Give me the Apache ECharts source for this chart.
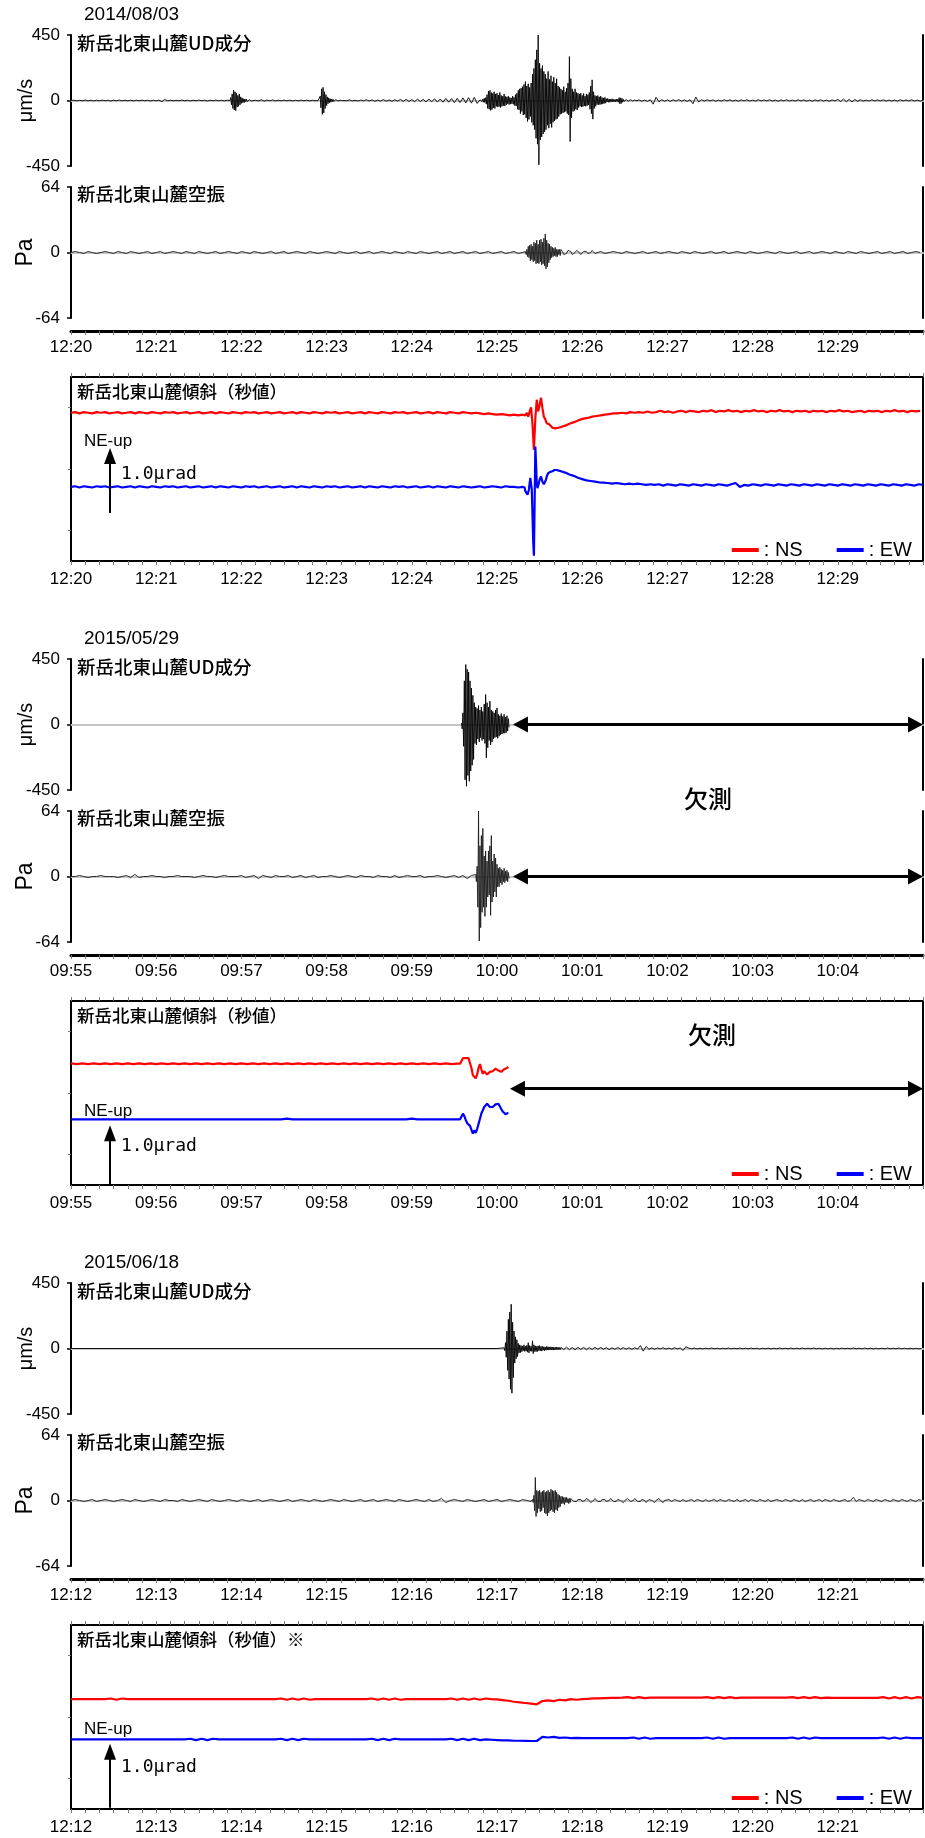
<!DOCTYPE html>
<html><head><meta charset="utf-8">
<script src="https://cdn.jsdelivr.net/npm/echarts@6/dist/echarts.min.js"></script>
<style>html,body{margin:0;padding:0;background:#fff}#c{width:925px;height:1838px}</style>
</head><body><div id="c"></div>
<script>
// ---------- tick labels / texts ----------
const ticks1 = ['12:20','12:21','12:22','12:23','12:24','12:25','12:26','12:27','12:28','12:29'];
const ticks2 = ['09:55','09:56','09:57','09:58','09:59','10:00','10:01','10:02','10:03','10:04'];
const ticks3 = ['12:12','12:13','12:14','12:15','12:16','12:17','12:18','12:19','12:20','12:21'];
const dates = ['2014/08/03','2015/05/29','2015/06/18'];
const udTitle = '新岳北東山麓UD成分';
const paTitle = '新岳北東山麓空振';
const tiltTitles = ['新岳北東山麓傾斜（秒値）','新岳北東山麓傾斜（秒値）','新岳北東山麓傾斜（秒値）※'];

// ---------- panel 1 : UD (μm/s), seconds from 12:20:00 ----------
const ud1Quiet0 = [0,2,-2,1,-2,3,-2,2,-3,2,-2,3,-2,2,-3,2,-2,3,-2,2,-2,2,-3,2,-2,3,-2,2,-3,2,-2,3,-8,7,-2,2,-3,2,-2,3,-2,2,-3,2,-2,3,-2,2,-3,2,-2,3,-2,2,-3,2];
const ud1EvA = [0,20,-30,45,-55,70,-65,60,-70,50,-45,35,-40,45,-30,25,-20,18,-15,12,-14,10,-8,9,-7,6,-5,5,-4,3,-3,2,0];
const ud1Quiet1 = [2,-3,5,-4,3,-2,4,-3,2,-2,3,-2,2,-3,2,-2,3,-2,2,-3,2,-2,0];
const ud1EvB = [0,30,-50,80,-95,90,-85,60,-55,40,-35,25,-22,18,-15,12,-12,10,-8,8,-6,6,-5,5,-4,4,-3,3,-3,2,-2,2,0];
const ud1Noise = [3,-2,4,-3,2,-4,3,-2,5,-3,4,-5,3,-4,6,-5,4,-6,5,-4,7,-6,8,-7,6,-8,9,-7,8,-10,10,-9,12,-11,10,-12,14,-12,13,-15,15,-14,18,-16,20,-18,22,-20];
const ud1Main = [
 5,-6,8,-7,10,-12,15,-14,20,-25,
 40,-55,65,-60,70,-68,55,-62,48,-50,60,-55,45,-40,
 50,-45,38,-42,55,-48,35,-40,30,-35,45,-38,28,-30,25,-22,30,-28,
 20,-25,18,-22,30,-26,22,-35,40,-38,
 50,-60,70,-65,80,-90,85,-75,95,-100,110,-95,
 130,-120,100,-144,115,-130,90,-110,
 120,-150,180,-170,220,-200,280,-260,
 348,-300,450,-442,
 256,-270,220,-250,240,-230,200,-215,
 180,-200,150,-170,200,-190,145,-160,170,-185,130,-150,
 160,-140,120,-130,150,-125,100,-110,90,-95,
 80,-90,70,-85,95,-80,60,-75,85,-90,120,-100,
 302,-282,
 150,-120,80,-75,60,-70,80,-60,55,-65,50,-48,
 45,-40,50,-45,35,-42,48,-38,30,-40,45,-35,40,-30,55,-60,
 100,-90,142,-128,
 60,-55,35,-40,30,-28,34,-30,25,-28,30,-26,20,-24,18,-20,22,-18,
 12,-10,14,-12,10,-12,9,-8,12,-10,8,-9,7,-8,10,-8,9,-12,
 20,-23,18,-20,15,-12,
 8,-6,5,-7,6,-5,4,-5,3,-4,5,-3,4,-3,2,-3,3,-2,2,-2,1,0];
const ud1Tail = [4,-5,3,-6,5,-25,22,-8,6,-5,4,-6,5,-4,6,-5,4,-6,5,-22,24,-10,6,-4,5,-3,4,-5,3,-4,5,-3,4,-4,3,-5,4,-3,5,-4,3,-4,5,-3,4,-3,5,-4,3,-5,4,-3,5,-4,3,-4,5,-3,4,-4,3,-5,4,-3,5,-4,3,-5,4,-3,8,-7,10,-9,8,-10,7,-6,5,-4,3,-4,5,-3,4,-3,5,-4,3,-4,3,-4,5,-3,4,-3,5,-4,3,-4,0];

// ---------- panel 1 : infrasound (Pa) ----------
const pa1Pre = [0,1,0,-1,1,0,-1,0,1,0,-1,1,0,-1,1,0,-1,0,1,-1,0,1,-1,0,1,0,-1,1,0,-1,1,0,-1,0,1,-1,0,1,0,-1,1,0,-1,1,0,-1,0,1,-1,0,1,-1,0,1,0,-1,1,0,-1,0,1,0,-1,1,0,-1,0,1,-1,0,1,-1,0,1,0,-1,1,0,-1,1,0,-1,1,0,-1,0,1,-1,0,1,-1,0,1,-1,0,1,-1,0,1,-1,0,1,-1,0,1,-1,0];
const pa1Ev = [1,-2,3,-4,6,-5,7,-8,8,-7,6,-9,10,-8,9,-11,12,-10,8,-11,12,-9,13,-12,10,-11,14,-13,18,-16,12,-14,9,-10,8,-7,6,-5,5,-4,4,-3,5,-4,3,-4,3,-2,3,-3];
const pa1Ring = [3,1,-2,-3,-1,2,3,1,-2,-3,0,2,2,0,-2,-2,1,2,1,-1,-2,0,2,1,-1];
const pa1Post = [0,1,-1,0,1,0,-1,1,0,-1,0,1,-1,0,1,-1,0,1,0,-1,1,0,-1,1,0,-1,0,1,-1,0,1,-1,0,1,0,-1,1,0,-1,0,1,0,-1,1,0,-1,0,1,-1,0,1,-1,0,1,0,-1,1,0,-1,1,0,-1,1,0,-1,0,1,-1,0,1,-1,0,1,-1,0,1,0];

// ---------- panel 1 : tilt (μrad, arbitrary zero) ----------
const ns1Pre = [2.28,2.29,2.27,2.29,2.28,2.27,2.29,2.28,2.29,2.27,2.28,2.29,2.27,2.28,2.29,2.27,2.29,2.28,2.27,2.29,2.28,2.27,2.29,2.28,2.29,2.27,2.28,2.29,2.27,2.28,2.29,2.27,2.28,2.29,2.27,2.29,2.28,2.27,2.29,2.28,2.27,2.29,2.28,2.29,2.27,2.28,2.29,2.27,2.28,2.29,2.27,2.28,2.29,2.27,2.29,2.28,2.27,2.29,2.28,2.27,2.29,2.28,2.29,2.27,2.28,2.29,2.27,2.28,2.29,2.27,2.29,2.28,2.27,2.29,2.28,2.27,2.29,2.28,2.29,2.27,2.28,2.29,2.27,2.28,2.29,2.27,2.29,2.28,2.27,2.29,2.28,2.27,2.29,2.28,2.27,2.28,2.27,2.26,2.27,2.26,2.25,2.26,2.25,2.24,2.25,2.24,2.25];
const ns1Ev = [2.25,2.24,2.28,2.22,2.30,2.365,2.1,1.71,2.2,2.48,2.3,2.4,2.51,2.35,2.22,2.18,2.12,2.15,2.1,2.08,2.05,2.03,2.04,2.03,2.05,2.04,2.06];
const ns1Post = [2.07,2.09,2.12,2.14,2.17,2.19,2.20,2.22,2.23,2.24,2.25,2.26,2.27,2.27,2.28,2.27,2.29,2.28,2.29,2.28,2.30,2.28,2.29,2.31,2.29,2.30,2.28,2.30,2.31,2.29,2.31,2.30,2.29,2.31,2.30,2.32,2.29,2.31,2.30,2.32,2.30,2.31,2.29,2.31,2.30,2.32,2.30,2.31,2.29,2.31,2.30,2.32,2.30,2.31,2.29,2.31,2.30,2.31,2.29,2.31,2.30,2.31,2.29,2.31,2.30,2.32,2.30,2.31,2.29,2.30,2.31,2.29,2.31,2.30,2.31,2.29,2.31,2.30,2.32,2.30,2.31,2.29,2.31,2.30,2.31];
const ew1Pre = [1.14,1.15,1.13,1.15,1.14,1.13,1.15,1.14,1.15,1.13,1.14,1.15,1.13,1.14,1.15,1.13,1.15,1.14,1.13,1.15,1.14,1.13,1.15,1.14,1.15,1.13,1.14,1.15,1.13,1.14,1.15,1.13,1.14,1.15,1.13,1.15,1.14,1.13,1.15,1.14,1.13,1.15,1.14,1.15,1.13,1.14,1.15,1.13,1.14,1.15,1.13,1.14,1.15,1.13,1.15,1.14,1.13,1.15,1.14,1.13,1.15,1.14,1.15,1.13,1.14,1.15,1.13,1.14,1.15,1.13,1.15,1.14,1.13,1.15,1.14,1.13,1.15,1.14,1.15,1.13,1.14,1.15,1.13,1.14,1.15,1.13,1.15,1.14,1.13,1.15,1.14,1.13,1.15,1.14,1.13,1.14,1.15,1.13,1.14,1.15,1.14,1.13,1.15,1.14,1.14,1.13,1.14];
const ew1Ev = [1.14,1.13,1.07,1.05,1.04,1.02,1.015,1.1,1.2,1.28,1.31,1.1,0.7,0.3,0.08,0.9,1.76,1.5,1.2,1.12,1.14,1.2,1.25,1.28,1.30,1.27,1.22,1.2,1.18,1.17,1.2,1.25,1.3,1.33,1.35,1.34,1.35,1.37,1.38,1.39,1.38,1.40,1.39,1.40,1.41,1.40,1.40,1.39,1.40,1.39,1.38,1.39,1.38];
const ew1Post = [1.36,1.33,1.31,1.28,1.26,1.24,1.23,1.22,1.21,1.205,1.2,1.19,1.2,1.19,1.18,1.19,1.18,1.19,1.18,1.17,1.18,1.17,1.18,1.16,1.18,1.17,1.16,1.18,1.17,1.16,1.18,1.17,1.16,1.18,1.17,1.16,1.18,1.17,1.16,1.18,1.2,1.14,1.17,1.16,1.18,1.17,1.16,1.18,1.17,1.16,1.18,1.17,1.16,1.18,1.17,1.16,1.18,1.17,1.16,1.18,1.17,1.16,1.18,1.17,1.16,1.18,1.17,1.16,1.18,1.17,1.16,1.18,1.17,1.16,1.18,1.17,1.16,1.18,1.17,1.16,1.18,1.17,1.16,1.18,1.17];

// ---------- panel 2 (09:55:00) ----------
const ud2Ev = [10,-30,80,-150,300,-380,412,-424,380,-350,360,-390,300,-320,250,-280,200,-240,150,-130,120,-140,110,-100,130,-120,100,-90,120,-110,90,-100,140,-130,206,-229,150,-160,120,-110,160,-140,100,-120,90,-100,80,-90,100,-85,114,-95,70,-80,60,-70,75,-65,55,-60,70,-60,50,-55,60,-45,40,-20];
const pa2Pre = [0,0,1,0,-1,0,0,1,0,0,0,-1,0,1,-1,2,-1,0,0,1,0,0,-1,0,0,1,0,0,0,-1,0,1,0,0,-1,0,1,0,0,0,1,-1,0,1,-2,1,0,-1,1,0,0,1,-1,0,1,-1,0,1,-1,0,0,1,0,-1,0,1,0,-1,1,0,0,-1,1,0,0,-1,1,-1,0,1,0,0,1,-1,0,0,1,0,-1,0,1,-1,1,-2,1];
const pa2Ev = [2,-5,10,-30,64,-63,30,-50,40,-35,47,-30,20,-39,25,-30,15,-20,25,-18,30,-38,40,-25,15,-20,22,-15,18,-20,12,-10,8,-10,9,-6,7,-8,6,-5,8,-6,5,-4,6,-5,4,-2];
const ns2Pre = [1.87,1.86,1.87,1.86,1.87,1.86,1.87,1.86,1.87,1.86,1.87,1.86,1.87,1.86,1.87,1.86,1.87,1.86,1.87,1.86,1.87,1.86,1.87,1.86,1.87,1.86,1.87,1.86,1.87,1.86,1.87,1.86,1.87,1.86,1.87,1.86,1.87,1.86,1.87,1.86,1.87,1.86,1.87,1.86,1.87,1.86,1.87,1.86,1.87,1.86,1.87,1.86,1.87,1.86,1.87,1.86,1.87,1.86,1.87,1.86,1.87,1.86,1.87,1.86,1.87,1.86,1.87,1.86,1.866];
const ns2Ev = [1.866,1.86,1.95,1.93,1.95,1.94,1.95,1.93,1.8,1.69,1.72,1.64,1.7,1.8,1.86,1.78,1.71,1.75,1.74,1.70,1.72,1.74,1.73,1.75,1.77,1.79,1.78,1.76,1.75,1.74,1.75,1.78,1.79,1.8,1.815];
const ew2Pre = [1.01,1.01,1.01,1.01,1.01,1.01,1.01,1.01,1.01,1.01,1.01,1.01,1.01,1.01,1.01,1.01,1.01,1.01,1.01,1.01,1.01,1.01,1.01,1.01,1.01,1.01,1.01,1.01,1.01,1.01,1.01,1.01,1.01,1.01,1.01,1.01,1.01,1.01,1.02,1.01,1.01,1.01,1.01,1.01,1.01,1.01,1.01,1.01,1.01,1.01,1.01,1.01,1.01,1.01,1.01,1.01,1.01,1.01,1.01,1.01,1.02,1.01,1.01,1.01,1.01,1.01,1.01,1.01,1.01];
const ew2Ev = [1.01,1.01,1.097,1.06,1.0,0.95,0.94,0.91,0.89,0.79,0.84,0.80,0.86,0.94,1.02,1.1,1.15,1.2,1.22,1.25,1.24,1.2,1.17,1.2,1.225,1.24,1.25,1.25,1.22,1.17,1.13,1.1,1.09,1.1,1.11];

// ---------- panel 3 (12:12:00) ----------
const ud3Pre = [0,0,0,0,0,0,0];
const ud3Ev = [5,-15,40,-60,120,-150,200,-210,250,-280,304,-307,180,-200,120,-100,80,-70,60,-55,35,-30,25,-28,20,-22,18,-15,25,-20,15,-18,22,-25,40,-30,20,-18,15,-20,53,-35,25,-20,18,-22,15,-20,18,-15,20,-16,14,-18,15,-12,12,-15,10,-12,14,-10,12,-11,10,-8,12,-10,9,-11,10,-8,8,-9,10,-7,9,-8,7,-8];
const ud3Tail = [8,-7,9,-8,7,-9,8,-6,7,-8,6,-7,8,-6,7,-5,6,-7,5,-6,7,-5,6,-5,5,-6,5,-4,20,-18,14,-5,4,-5,4,-3,5,-4,3,-4,5,-3,4,-14,12,3,-2,3,-3,2,-3,2,-2,3,-2,2,-3,2,-2,3,-2,2,-2,3,-2,2,-2,3,-2,2,-3,2,-2,2,-3,2,-2,3,-2,2,-2,3,-2,2,-2,3,-2,2,-2,3,-2,2,-3,2,-2,2,-3,2,-2,3,-2,2,-2,3,-2,2,-2,3,-2,2,-3,2,-2,2,-2,3,-2,2,-2,3,-2,2,-2,2,-3,2,-2,0];
const pa3Pre = [0,1,0,-1,0,1,-1,0,1,0,-1,0,1,0,-1,1,0,-1,0,1,0,-1,1,0,0,-1,1,0,-1,0,1,0,-1,1,0,-1,0,1,0,-1,1,0,-1,0,1,-1,0,1,0,-1,0,1,-1,0,1,0,-1,1,0,-1,0,1,0,-1,1,0,-1,0,1,-1,0,1,-1,0,1,0,-1,1,0,-1,0,1,0,-1,1,-1,0,2,-2,0,1,0,-1,1,0,-1,0,1,-1,0,1,-1,0,1,0,-1,1,0,-1];
const pa3Ev = [1,-2,5,-10,22.5,-15.6,10,-12,9,-8,10,-11,8,-10,9,-7,10,-12,8,-13,9,-15,10,-12,8,-10,11,-9,10,-11,9,-12,10,-9,8,-10,6,-7,5,-6,4,-3,4,-3,3,-4,3,-2,3,-2,2,-3,2,-2];
const pa3Ring = [2,1,-1,-2,-1,1,2,1,-1,-2,0,2,2,0,-2,-2,0,2,1,-1,-2,-1,1,2,1,-1,-2,0,2,1,-1,-2,-1,1,2,0,-1,-2,0,1,2,1,-1,-2,0,2,1,-1,-2,-1,1,2,0,-2,-1,1,2,0,-1,-2,0,1,2,0,-1,-2,0,1];
const pa3Post = [1,-1,1,0,-1,1,-1,0,1,-1,1,0,-1,1,-1,0,1,-1,1,0,-1,1,0,-1,1,-1,0,1,-1,1,0,-1,1,0,-1,1,-1,0,1,0,-1,1,0,-1,1,0,-1,1,-1,0,1,-1,0,1,-1,1,0,-1,1,0,-1,0,1,-1,0,3,-1,1,0,-1,1,0,-1,1,0,-1,1,0,-1,1,0,-1,1,0,-1,1,0,-1,1,0];
const ns3All = [1.69,1.69,1.69,1.69,1.69,1.69,1.69,1.70,1.68,1.70,1.69,1.69,1.69,1.69,1.69,1.69,1.69,1.69,1.69,1.69,1.69,1.69,1.69,1.69,1.69,1.69,1.69,1.69,1.69,1.69,1.69,1.69,1.69,1.69,1.69,1.69,1.69,1.70,1.68,1.70,1.68,1.70,1.68,1.69,1.69,1.69,1.69,1.69,1.69,1.69,1.69,1.69,1.69,1.70,1.68,1.70,1.68,1.70,1.68,1.69,1.69,1.69,1.69,1.69,1.69,1.69,1.69,1.70,1.68,1.70,1.68,1.70,1.68,1.70,1.69,1.685,1.675,1.665,1.65,1.64,1.63,1.62,1.61,1.66,1.67,1.66,1.68,1.67,1.69,1.68,1.69,1.695,1.70,1.70,1.705,1.71,1.71,1.713,1.72,1.705,1.72,1.705,1.713,1.713,1.713,1.713,1.713,1.713,1.713,1.713,1.713,1.713,1.72,1.705,1.72,1.705,1.72,1.705,1.713,1.713,1.713,1.713,1.713,1.713,1.713,1.713,1.713,1.72,1.705,1.72,1.705,1.72,1.705,1.713,1.71,1.71,1.71,1.71,1.71,1.71,1.71,1.71,1.71,1.72,1.70,1.72,1.70,1.72,1.70,1.72,1.71];
const ew3All = [1.07,1.07,1.07,1.07,1.07,1.07,1.07,1.07,1.07,1.07,1.07,1.07,1.07,1.07,1.07,1.07,1.07,1.07,1.07,1.07,1.07,1.08,1.06,1.08,1.06,1.08,1.07,1.07,1.07,1.07,1.07,1.07,1.07,1.07,1.07,1.07,1.07,1.08,1.06,1.08,1.06,1.08,1.07,1.07,1.07,1.07,1.07,1.07,1.07,1.07,1.07,1.07,1.07,1.08,1.06,1.08,1.06,1.08,1.07,1.07,1.07,1.07,1.07,1.07,1.07,1.07,1.07,1.08,1.06,1.08,1.06,1.08,1.06,1.07,1.065,1.06,1.055,1.055,1.05,1.05,1.048,1.046,1.046,1.11,1.1,1.108,1.095,1.1,1.09,1.095,1.09,1.09,1.09,1.09,1.09,1.09,1.09,1.09,1.09,1.1,1.08,1.1,1.08,1.09,1.09,1.09,1.09,1.09,1.09,1.09,1.09,1.09,1.1,1.08,1.1,1.08,1.09,1.09,1.09,1.09,1.09,1.09,1.09,1.09,1.09,1.09,1.09,1.1,1.08,1.1,1.08,1.1,1.09,1.09,1.09,1.09,1.09,1.09,1.09,1.09,1.09,1.09,1.09,1.1,1.08,1.1,1.08,1.1,1.09,1.09,1.09];

// ---------- helpers ----------
function seg(t0, dt, vals){ return vals.map((v,i)=>[t0+i*dt, v]); }
function join(){ return [].concat.apply([], arguments); }

const udData = [
  join(seg(0,2,ud1Quiet0), seg(112,0.5,ud1EvA), seg(130,2,ud1Quiet1), seg(175,0.5,ud1EvB), seg(192,2,ud1Noise), seg(288,0.5,ud1Main), seg(400,2,ud1Tail)),
  seg(275,0.5,ud2Ev),
  join(seg(0,50,ud3Pre), seg(305,0.5,ud3Ev), seg(345,2,ud3Tail))
];
const paData = [
  join(seg(0,3,pa1Pre), seg(320,0.5,pa1Ev), seg(345,1,pa1Ring), seg(370,3,pa1Post)),
  join(seg(0,3,pa2Pre), seg(285,0.5,pa2Ev)),
  join(seg(0,3,pa3Pre), seg(325,0.5,pa3Ev), seg(352,1,pa3Ring), seg(421,2,pa3Post))
];
const nsData = [
  join(seg(0,3,ns1Pre), seg(319,1,ns1Ev), seg(346,3,ns1Post)),
  join(seg(0,4,ns2Pre), seg(274,1,ns2Ev)),
  seg(0,4,ns3All)
];
const ewData = [
  join(seg(0,3,ew1Pre), seg(319,0.5,ew1Ev), seg(348,3,ew1Post)),
  join(seg(0,4,ew2Pre), seg(274,1,ew2Ev)),
  seg(0,4,ew3All)
];
const tickSets = [ticks1, ticks2, ticks3];

// ---------- layout ----------
const FL = '"Liberation Sans", Arial, sans-serif';
const FJ = '"Noto Sans CJK JP", sans-serif';
const PANEL_DY = [0, 624, 1248];
const TILT_SPAN = 2.83;
const neUp = [[0.738,1.615],[0.0,0.795],[0.02,0.88]];
const neTextY = [441, 487, 481];
const radTextY = [474, 522.5, 519.5];

const grid=[], xAxis=[], yAxis=[], series=[], legend=[], graphic=[];
const fmt = (labels) => (v) => { const i = Math.round(v/60); return (i>=0 && i<labels.length) ? labels[i] : ''; };

function zeroX(g){ return {gridIndex:g, type:'value', position:'bottom', min:0, max:600,
  axisLine:{show:true, onZero:true, lineStyle:{color:'#c6c6c6', width:2}},
  axisTick:{show:false}, axisLabel:{show:false}, splitLine:{show:false}}; }
function leftY(g, lo, hi, name, nSize, nGap){ return {gridIndex:g, type:'value', position:'left', min:lo, max:hi, interval:hi,
  axisLine:{show:true, onZero:false, lineStyle:{color:'#000', width:2}},
  axisTick:{show:true, length:4, lineStyle:{color:'#000', width:1.5}},
  axisLabel:{show:true, fontSize:17, fontFamily:FL, color:'#000', margin:11},
  splitLine:{show:false}, name:name, nameLocation:'middle', nameRotate:90, nameGap:nGap, nameMoveOverlap:false,
  nameTextStyle:{fontSize:nSize, fontFamily:FL, color:'#000'}}; }
function rightY(g, lo, hi){ return {gridIndex:g, type:'value', position:'right', min:lo, max:hi,
  axisLine:{show:true, onZero:false, lineStyle:{color:'#000', width:2}},
  axisTick:{show:false}, axisLabel:{show:false}, splitLine:{show:false}}; }
function timeX(g, labels, pos, offset, showLine, showLabel, margin){ return {gridIndex:g, type:'value', position:pos, offset:offset, min:0, max:600, interval:60,
  axisLine:{show:showLine, onZero:false, lineStyle:{color:'#000', width:3}},
  axisTick:{show:true, length:4, lineStyle:{color:'#777', width:1}},
  minorTick:{show:true, splitNumber:6, length:4, lineStyle:{color:'#777', width:1}},
  axisLabel:{show:showLabel, formatter:fmt(labels), fontSize:17, fontFamily:FL, color:'#000', margin:margin},
  splitLine:{show:false}}; }
const traceBase = {type:'line', showSymbol:false, symbol:'none', silent:true, animation:false, z:3};
function arrowLine(a, b, size, width, startSym){ return {silent:true, animation:false,
  symbol:[startSym, 'triangle'], symbolSize:size, lineStyle:{color:'#000', width:width, type:'solid'},
  itemStyle:{color:'#000'}, label:{show:false}, emphasis:{disabled:true}, data:[[{coord:a},{coord:b}]]}; }

for (let p=0; p<3; p++){
  const oy = PANEL_DY[p];
  // --- UD grid
  let g = grid.length;
  grid.push({left:71, right:2, top:35+oy, height:131, containLabel:false, outerBoundsMode:'none'});
  let xi = xAxis.length; xAxis.push(zeroX(g));
  let yi = yAxis.length; yAxis.push(leftY(g, -450, 450, 'μm/s', 20, 35)); yAxis.push(rightY(g, -450, 450));
  const udS = Object.assign({}, traceBase, {xAxisIndex:xi, yAxisIndex:yi, data:udData[p], lineStyle:{color:'#000', width:0.9}});
  if (p===1){ udS.clip=false; udS.markLine = arrowLine([316.5,0],[594.7,0],[16,15],3,'triangle'); }
  series.push(udS);
  // --- Pa grid
  g = grid.length;
  grid.push({left:71, right:2, top:187+oy, height:131, containLabel:false, outerBoundsMode:'none'});
  xi = xAxis.length; xAxis.push(zeroX(g)); xAxis.push(timeX(g, tickSets[p], 'bottom', 13, true, true, 8));
  yi = yAxis.length; yAxis.push(leftY(g, -64, 64, 'Pa', 23, 34)); yAxis.push(rightY(g, -64, 64));
  const paS = Object.assign({}, traceBase, {xAxisIndex:xi, yAxisIndex:yi, data:paData[p], lineStyle:{color:'#1a1a1a', width:0.9}});
  if (p===1){ paS.clip=false; paS.markLine = arrowLine([316.5,0],[594.7,0],[16,15],3,'triangle'); }
  series.push(paS);
  // --- tilt grid
  g = grid.length;
  grid.push({left:71, right:2, top:377+oy, height:184, containLabel:false, outerBoundsMode:'none',
    show:true, borderColor:'#000', borderWidth:2, backgroundColor:'rgba(0,0,0,0)'});
  xi = xAxis.length; xAxis.push(timeX(g, tickSets[p], 'bottom', 0, false, true, 10)); xAxis.push(timeX(g, tickSets[p], 'top', 0, false, false, 8));
  yi = yAxis.length;
  yAxis.push({gridIndex:g, type:'value', min:0, max:TILT_SPAN, axisLine:{show:false, onZero:false},
    axisTick:{show:true, length:3, lineStyle:{color:'#777'}, customValues:[TILT_SPAN/6, TILT_SPAN/2, TILT_SPAN*5/6]},
    axisLabel:{show:false}, splitLine:{show:false}});
  const nsS = Object.assign({}, traceBase, {name:'NS', xAxisIndex:xi, yAxisIndex:yi, data:nsData[p], clip:false,
    color:'#ff0000', lineStyle:{color:'#ff0000', width:2.2}, itemStyle:{color:'#ff0000'}});
  if (p===1){ nsS.markLine = arrowLine([314.4,1.481],[594.7,1.481],[16,15],3,'triangle'); }
  series.push(nsS);
  series.push(Object.assign({}, traceBase, {name:'EW', xAxisIndex:xi, yAxisIndex:yi, data:ewData[p], clip:false,
    color:'#0000ff', lineStyle:{color:'#0000ff', width:2.2}, itemStyle:{color:'#0000ff'},
    markLine: arrowLine([27.5, neUp[p][0]],[27.5, neUp[p][1]],[12,16],2,'none')}));
  legend.push({show:true, left:'auto', right:8, top:535+oy, width:260, orient:'horizontal', icon:'rect',
    itemWidth:27, itemHeight:4, itemGap:34, selectedMode:false, data:['NS','EW'], formatter:(n)=>': '+n,
    textStyle:{fontSize:20, fontFamily:FL, color:'#000'}});
  // --- texts
  const T = (text, x, y, size, fam, align, weight) => ({type:'text', x:x, y:y, silent:true, z:10,
    style:{text:text, fontSize:size, fontFamily:fam, fontWeight:weight||'normal', fill:'#000', align:align||'left', verticalAlign:'middle',
      textAlign:align||'left', textVerticalAlign:'middle'}});
  graphic.push(T(dates[p], 84, 15+oy, 19, FL));
  graphic.push(T(udTitle, 77, 43+oy, 18.5, FJ, 'left', 500));
  graphic.push(T(paTitle, 77, 193.5+oy, 18.5, FJ, 'left', 500));
  graphic.push(T(tiltTitles[p], 77, 391.5+oy, 17.5, FJ, 'left', 500));
  graphic.push(T('NE-up', 84, neTextY[p]+oy, 17, FL));
  graphic.push(T('1.0μrad', 121, radTextY[p]+oy, 18, '"DejaVu Sans Mono", monospace'));
  if (p===1){
    graphic.push(T('欠測', 708, 799, 24, FJ, 'center', 500));
    graphic.push(T('欠測', 712, 1035, 24, FJ, 'center', 500));
  }
}

const chart = echarts.init(document.getElementById('c'), null, {renderer:'canvas', width:925, height:1838});
chart.setOption({animation:false, backgroundColor:'#fff', grid, xAxis, yAxis, series, legend, graphic});
</script></body></html>
